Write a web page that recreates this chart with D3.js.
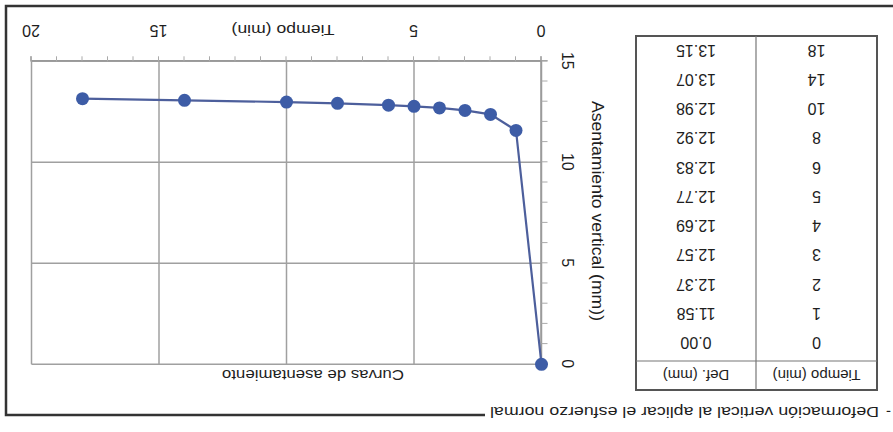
<!DOCTYPE html>
<html>
<head>
<meta charset="utf-8">
<script src="https://cdn.jsdelivr.net/npm/d3@7"></script>
<style>
  html, body { margin: 0; padding: 0; background: #fff; }
  svg { display: block; }
  text { font-family: "Liberation Sans", Arial, sans-serif; fill: #1e1e1e; }
</style>
</head>
<body>
<svg id="fig" width="893" height="432"></svg>
<script>
// Settlement readings: time (min) and vertical deformation (mm)
const tiempos = [0, 1, 2, 3, 4, 5, 6, 8, 10, 14, 18];
const deformaciones = [0.00, 11.58, 12.37, 12.57, 12.69, 12.77, 12.83, 12.92, 12.98, 13.07, 13.15];
const xTicks = [0, 5, 10, 15, 20];
const xTickLabels = [0, 5, 15, 20];   // the "10" label sits under the axis title
const yTicks = [0, 5, 10, 15];
const tableHeaders = ["Tiempo (min)", "Def. (mm)"];

const W = 893, H = 432;
const svg = d3.select("#fig");
// The sheet is scanned upside-down, so the whole page is turned half a turn.
const page = svg.append("g").attr("transform", `rotate(180 ${W / 2} ${H / 2})`);

const ink = "#333";

// ---- frame and section heading ----
page.append("text")
  .attr("x", 2).attr("y", 20).attr("dy", "0.35em")
  .attr("font-size", 15).text("-");
page.append("text")
  .attr("x", 14).attr("y", 20).attr("dy", "0.35em")
  .attr("font-size", 15)
  .attr("textLength", 389).attr("lengthAdjust", "spacingAndGlyphs")
  .text("Deformación vertical al aplicar el esfuerzo normal");
page.append("path")
  .attr("d", "M408,17 H887 V426 H0")
  .attr("fill", "none").attr("stroke", ink).attr("stroke-width", 2.5);

// ---- data table ----
const tbl = { x0: 16, x1: 137, x2: 257, top: 42, head: 71, bottom: 396 };
const rowY = d3.scaleBand().domain(d3.range(tiempos.length)).range([74.5, 396.5]);
const tg = page.append("g");
tg.append("rect")
  .attr("x", tbl.x0).attr("y", tbl.top)
  .attr("width", tbl.x2 - tbl.x0).attr("height", tbl.bottom - tbl.top)
  .attr("fill", "none").attr("stroke", "#555").attr("stroke-width", 2);
tg.append("line")
  .attr("x1", tbl.x0).attr("x2", tbl.x2).attr("y1", tbl.head).attr("y2", tbl.head)
  .attr("stroke", "#777").attr("stroke-width", 1.2);
tg.append("line")
  .attr("x1", tbl.x1).attr("x2", tbl.x1).attr("y1", tbl.top).attr("y2", tbl.bottom)
  .attr("stroke", "#777").attr("stroke-width", 1.2);
const colX = [(tbl.x0 + tbl.x1) / 2, (tbl.x1 + tbl.x2) / 2];
tg.selectAll("text.head").data(tableHeaders).join("text")
  .attr("class", "head")
  .attr("x", (d, i) => colX[i]).attr("y", (tbl.top + tbl.head) / 2).attr("dy", "0.35em")
  .attr("text-anchor", "middle").attr("font-size", 15).text(d => d);
tg.selectAll("text.t").data(tiempos).join("text")
  .attr("class", "t")
  .attr("x", colX[0]).attr("y", (d, i) => rowY(i) + rowY.bandwidth() / 2).attr("dy", "0.35em")
  .attr("text-anchor", "middle").attr("font-size", 16).text(d => d);
tg.selectAll("text.d").data(deformaciones).join("text")
  .attr("class", "d")
  .attr("x", colX[1]).attr("y", (d, i) => rowY(i) + rowY.bandwidth() / 2).attr("dy", "0.35em")
  .attr("text-anchor", "middle").attr("font-size", 16).text(d => d.toFixed(2));

// ---- settlement chart ----
const x = d3.scaleLinear().domain([0, 20]).range([351.5, 861.5]);
const y = d3.scaleLinear().domain([0, 15]).range([67.7, 370.7]);
const grid = "#a0a0a0";
const cg = page.append("g");

// grid
cg.selectAll("line.gx").data(xTicks).join("line")
  .attr("class", "gx")
  .attr("x1", d => x(d)).attr("x2", d => x(d)).attr("y1", y(0)).attr("y2", y(15))
  .attr("stroke", grid).attr("stroke-width", 1.5);
cg.selectAll("line.gy").data(yTicks).join("line")
  .attr("class", "gy")
  .attr("x1", x(0)).attr("x2", x(20)).attr("y1", d => y(d)).attr("y2", d => y(d))
  .attr("stroke", grid).attr("stroke-width", 1.5);

// minor ticks every minute / millimetre
const xAxisMinor = cg.append("g").attr("transform", `translate(0,${y(15)})`)
  .call(d3.axisBottom(x).tickValues(d3.range(0, 21)).tickSize(5).tickFormat(""));
const yAxisMinor = cg.append("g").attr("transform", `translate(${x(0)},0)`)
  .call(d3.axisLeft(y).tickValues(d3.range(0, 16)).tickSize(6).tickFormat(""));
[xAxisMinor, yAxisMinor].forEach(a => {
  a.select(".domain").attr("stroke", "#999").attr("stroke-width", 1.5);
  a.selectAll(".tick line").attr("stroke", "#aaa").attr("stroke-width", 1);
});

// major labels
const xAxis = cg.append("g").attr("transform", `translate(0,${y(15)})`)
  .call(d3.axisBottom(x).tickValues(xTickLabels).tickSize(0));
xAxis.select(".domain").remove();
xAxis.selectAll("text")
  .attr("y", 31).attr("dy", "0.35em")
  .attr("font-size", 16).attr("fill", "#1e1e1e")
  .style("font-family", "'Liberation Sans', Arial, sans-serif");

const yAxis = cg.append("g").attr("transform", `translate(${x(0)},0)`)
  .call(d3.axisLeft(y).tickValues(yTicks).tickSize(0));
yAxis.select(".domain").remove();
yAxis.selectAll("text")
  .attr("x", 0).attr("y", 0).attr("dy", "0.35em")
  .attr("text-anchor", "middle")
  .attr("transform", "translate(-26,0) rotate(-90)")
  .attr("font-size", 16).attr("fill", "#1e1e1e")
  .style("font-family", "'Liberation Sans', Arial, sans-serif");

// axis titles and chart title
cg.append("text")
  .attr("x", 610).attr("y", 402).attr("dy", "0.35em").attr("text-anchor", "middle")
  .attr("font-size", 15)
  .attr("textLength", 103).attr("lengthAdjust", "spacingAndGlyphs")
  .text("Tiempo (min)");

cg.append("text")
  .attr("transform", "translate(295,221) rotate(-90)")
  .attr("dy", "0.35em").attr("text-anchor", "middle")
  .attr("font-size", 16)
  .attr("textLength", 220).attr("lengthAdjust", "spacingAndGlyphs")
  .text("Asentamiento vertical (mm))");

cg.append("text")
  .attr("x", 580).attr("y", 57).attr("dy", "0.35em")
  .attr("text-anchor", "middle").attr("font-size", 15)
  .attr("textLength", 182).attr("lengthAdjust", "spacingAndGlyphs")
  .text("Curvas de asentamiento");

// series
const pts = tiempos.map((t, i) => [t, deformaciones[i]]);
cg.append("path")
  .datum(pts)
  .attr("d", d3.line().x(d => x(d[0])).y(d => y(d[1])))
  .attr("fill", "none").attr("stroke", "#4d5f9c").attr("stroke-width", 2.2);
cg.selectAll("circle.pt").data(pts).join("circle")
  .attr("class", "pt")
  .attr("cx", d => x(d[0])).attr("cy", d => y(d[1])).attr("r", 6.5)
  .attr("fill", "#3d5ca6");
</script>
</body>
</html>
